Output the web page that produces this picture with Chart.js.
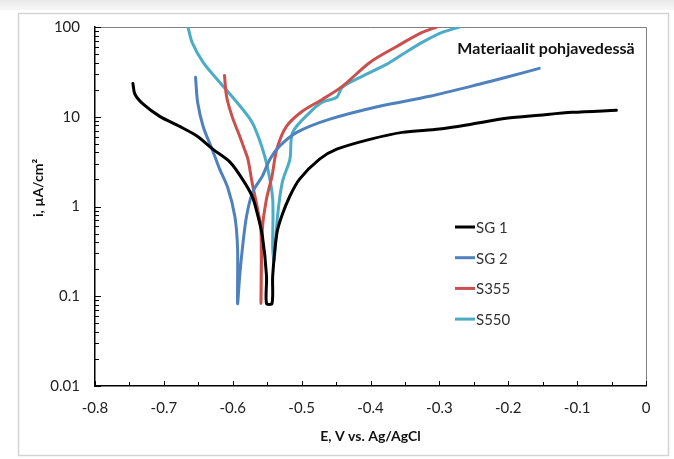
<!DOCTYPE html>
<html>
<head>
<meta charset="utf-8">
<script src="https://cdn.jsdelivr.net/npm/chart.js@4.4.1/dist/chart.umd.min.js"></script>
<style>
  html, body { margin: 0; padding: 0; background: #fff; }
  #wrap { position: relative; width: 674px; height: 459px; overflow: hidden; }
</style>
</head>
<body>
<div id="wrap"><canvas id="chart" width="674" height="459"></canvas></div>
<script>
// ── Data (E in V vs. Ag/AgCl, i in µA/cm²) ──

const xTicks = [-0.8, -0.7, -0.6, -0.5, -0.4, -0.3, -0.2, -0.1, 0];
const xTickLabels = ['-0.8', '-0.7', '-0.6', '-0.5', '-0.4', '-0.3', '-0.2', '-0.1', '0'];
const yTicks = [0.01, 0.1, 1, 10, 100];
const yTickLabels = ['0.01', '0.1', '1', '10', '100'];

const seriesNames = ['SG 1', 'SG 2', 'S355', 'S550'];
const seriesColors = ['#000000', '#4f81bd', '#c9504d', '#4bacc6'];

const sg1E = [-0.745, -0.742, -0.730, -0.706, -0.677, -0.652, -0.629, -0.604, -0.586, -0.572,
  -0.565, -0.557, -0.551, -0.551, -0.543, -0.542, -0.536, -0.529, -0.517, -0.503,
  -0.474, -0.449, -0.401, -0.354, -0.300, -0.252, -0.203, -0.155, -0.107, -0.043];
const sg1I = [23.5, 17.8, 13.8, 10.1, 7.8, 6.1, 4.35, 3.12, 2.02, 1.31,
  0.87, 0.47, 0.169, 0.083, 0.083, 0.169, 0.5, 0.78, 1.31, 2.02,
  3.37, 4.35, 5.6, 6.7, 7.3, 8.3, 9.6, 10.4, 11.2, 11.8];

const sg2E = [-0.654, -0.651, -0.643, -0.630, -0.619, -0.607, -0.597, -0.593, -0.593, -0.590,
  -0.586, -0.580, -0.571, -0.557, -0.546, -0.532, -0.507, -0.459, -0.387, -0.314,
  -0.242, -0.203, -0.155];
const sg2I = [27.5, 14.5, 7.8, 4.35, 2.61, 1.6, 0.78, 0.34, 0.083, 0.165,
  0.34, 0.78, 1.45, 2.18, 3.37, 4.7, 6.7, 9.4, 13.1, 16.9,
  23, 27.5, 34.6];

const s355E = [-0.612, -0.609, -0.601, -0.590, -0.583, -0.578, -0.572, -0.564, -0.559, -0.559,
  -0.557, -0.551, -0.543, -0.536, -0.522, -0.499, -0.470, -0.441, -0.401, -0.362,
  -0.325, -0.304];
const s355I = [28.9, 16.9, 10.1, 6.1, 4.35, 3.37, 1.87, 0.94, 0.56, 0.083,
  0.56, 1.21, 2.18, 4.35, 7.8, 11.5, 15.6, 21.8, 40.3, 60.7,
  86.9, 100];

const s550E = [-0.665, -0.659, -0.643, -0.619, -0.594, -0.572, -0.558, -0.549, -0.542, -0.542,
  -0.540, -0.535, -0.528, -0.517, -0.513, -0.488, -0.470, -0.449, -0.441, -0.412,
  -0.377, -0.354, -0.325, -0.296, -0.271];
const s550I = [100, 67.3, 40.3, 24.2, 14.5, 8.7, 4.7, 2.61, 1.21, 0.34,
  0.25, 0.78, 1.87, 3.37, 6.7, 11.2, 14.5, 16.5, 21.3, 28.2,
  38.3, 49.4, 67.3, 86.9, 100];

const chartTitle = 'Materiaalit pohjavedessä';
const xTitle = 'E, V vs. Ag/AgCl';
const yTitle = 'i, µA/cm²';

// ── Helpers ──

const FONT = 'Lato, "Open Sans", sans-serif';
const zip = (xs, ys) => xs.map((x, i) => ({ x, y: ys[i] }));

const allE = [sg1E, sg2E, s355E, s550E];
const allI = [sg1I, sg2I, s355I, s550I];

// frame, inward ticks, plot border, legend and in-plot title
const decorPlugin = {
  id: 'decor',
  beforeDraw(chart) {
    const { ctx, width, height } = chart;
    ctx.save();
    ctx.fillStyle = '#ffffff';
    ctx.fillRect(0, 0, width, height);
    const g = ctx.createLinearGradient(0, 0, 0, 10);
    g.addColorStop(0, '#e9e9e9');
    g.addColorStop(1, '#f7f7f7');
    ctx.fillStyle = g;
    ctx.fillRect(0, 0, width, 10);
    ctx.strokeStyle = '#d4d4d4';
    ctx.lineWidth = 1.5;
    ctx.strokeRect(18.5, 13.5, 650, 442);
    ctx.restore();
  },
  beforeDatasetsDraw(chart) {
    const { ctx, chartArea: a, scales: { x, y } } = chart;
    ctx.save();
    ctx.strokeStyle = '#808080';
    ctx.lineWidth = 1;
    ctx.beginPath();
    ctx.moveTo(a.left, a.top + 0.5);
    ctx.lineTo(a.right + 0.5, a.top + 0.5);
    ctx.lineTo(a.right + 0.5, a.bottom);
    ctx.stroke();

    ctx.strokeStyle = '#000';
    ctx.beginPath();
    for (let d = 0; d < yTicks.length; d++) {
      const dec = yTicks[d];
      const steps = d === yTicks.length - 1 ? 1 : 9;
      for (let m = 1; m <= steps; m++) {
        const py = Math.round(y.getPixelForValue(dec * m)) + 0.5;
        ctx.moveTo(a.left, py);
        ctx.lineTo(a.left + (m === 1 ? 6 : 4), py);
      }
    }
    for (let i = 0; i < xTicks.length; i++) {
      const v = xTicks[i];
      const px = Math.round(x.getPixelForValue(v)) + 0.5;
      ctx.moveTo(px, a.bottom);
      ctx.lineTo(px, a.bottom - 5);
      if (i < xTicks.length - 1) {
        const pm = Math.round(x.getPixelForValue(v + 0.05)) + 0.5;
        ctx.moveTo(pm, a.bottom);
        ctx.lineTo(pm, a.bottom - 4);
      }
    }
    ctx.stroke();
    ctx.restore();
  },
  afterDraw(chart) {
    const { ctx } = chart;
    ctx.save();
    // in-plot title
    ctx.fillStyle = '#111';
    ctx.font = `bold 16px ${FONT}`;
    ctx.textAlign = 'center';
    ctx.textBaseline = 'middle';
    ctx.fillText(chartTitle, 546, 49);

    // y axis title
    ctx.font = `bold 14px ${FONT}`;
    ctx.save();
    ctx.translate(38, 188);
    ctx.rotate(-Math.PI / 2);
    ctx.fillText(yTitle, 0, 0);
    ctx.restore();

    // legend
    ctx.font = `15px ${FONT}`;
    ctx.textAlign = 'left';
    chart.data.datasets.forEach((ds, i) => {
      const ly = 227 + i * 30.7;
      ctx.strokeStyle = ds.borderColor;
      ctx.lineWidth = 3;
      ctx.beginPath();
      ctx.moveTo(455, ly);
      ctx.lineTo(475, ly);
      ctx.stroke();
      ctx.fillStyle = '#333';
      ctx.fillText(ds.label, 476, ly + 1);
    });
    ctx.restore();
  },
};

new Chart(document.getElementById('chart'), {
  type: 'line',
  data: {
    datasets: seriesNames.map((name, i) => ({
      label: name,
      data: zip(allE[i], allI[i]),
      borderColor: seriesColors[i],
      backgroundColor: seriesColors[i],
      borderWidth: 3,
      pointRadius: 0,
      tension: 0.3,
      borderJoinStyle: 'round',
      borderCapStyle: 'round',
      fill: false,
    })),
  },
  options: {
    responsive: false,
    animation: false,
    layout: { padding: { left: 0, top: 27, right: 28, bottom: 0 } },
    plugins: { legend: { display: false }, tooltip: { enabled: false } },
    scales: {
      x: {
        type: 'linear',
        min: -0.8,
        max: 0,
        afterBuildTicks: s => { s.ticks = xTicks.map(v => ({ value: v })); },
        afterFit: s => { s.height = 73; },
        grid: { display: false, drawTicks: false },
        border: { display: true, color: '#000', width: 1.5 },
        ticks: {
          padding: 13,
          color: '#222',
          font: { family: FONT, size: 15 },
          maxRotation: 0,
          callback: (v, i) => xTickLabels[i],
        },
        title: {
          display: true,
          text: xTitle,
          color: '#111',
          font: { family: FONT, size: 14, weight: 'bold' },
          padding: { top: 0, bottom: 14 },
        },
      },
      y: {
        type: 'logarithmic',
        min: 0.01,
        max: 100,
        afterBuildTicks: s => { s.ticks = yTicks.map(v => ({ value: v })); },
        afterFit: s => { s.width = 95; },
        grid: { display: false, drawTicks: false },
        border: { display: true, color: '#000', width: 1.5 },
        ticks: {
          padding: 15,
          color: '#222',
          font: { family: FONT, size: 15 },
          callback: (v, i) => yTickLabels[i],
        },
      },
    },
  },
  plugins: [decorPlugin],
});
</script>
</body>
</html>
